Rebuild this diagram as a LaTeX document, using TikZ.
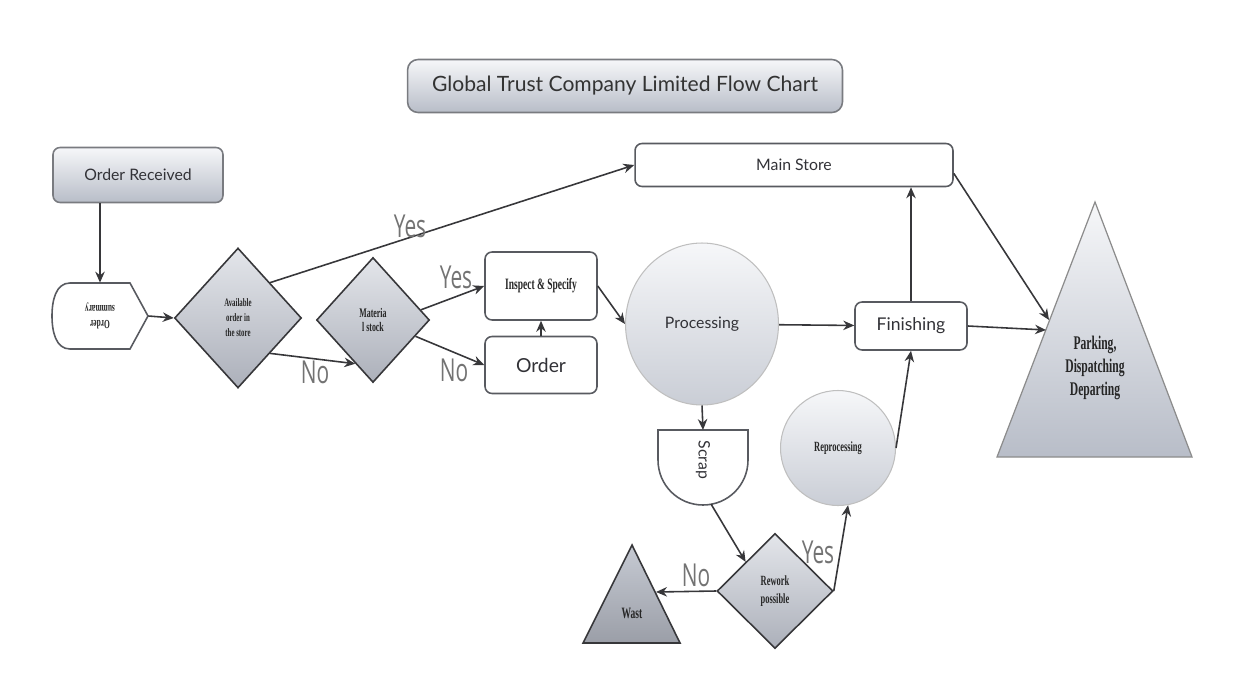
\documentclass[tikz,border=0pt]{standalone}
\usepackage{fontspec}
\setmainfont{Lato}
\newfontfamily\narrowfont[FakeStretch=0.6]{Liberation Serif}
\newfontfamily\thinfont[FakeStretch=0.66]{Open Sans}
\usetikzlibrary{arrows.meta,calc,shapes.geometric}
\definecolor{gtline}{RGB}{55,55,58}
\definecolor{gtedge}{RGB}{88,90,96}
\definecolor{gtlight}{RGB}{246,247,249}
\definecolor{gtgray}{RGB}{184,189,200}
\definecolor{gtdark}{RGB}{172,176,186}
\definecolor{gttext}{RGB}{50,50,55}

\begin{document}
\begin{tikzpicture}[
    x=0.02cm, y=-0.02cm,
    >={Stealth[length=2.2mm, width=1.9mm]},
    flow/.style={->, gtline, line width=0.9pt},
    tag/.style={font=\thinfont\fontsize{18}{18}\selectfont, text=black!55, inner sep=0pt},
    fine/.style 2 args={font=\narrowfont\bfseries\fontsize{#1}{#2}\selectfont, text=black!85},
    box/.style={draw=gtedge, line width=0.9pt, rounded corners=4pt, fill=white,
      text=gttext, font=\fontsize{9}{11}\selectfont},
    shadebox/.style={box, draw=gtedge!80, top color=gtlight, bottom color=gtgray},
    decide/.style={diamond, draw=gtline, line width=0.9pt, inner sep=0pt, align=center,
      top color=gtlight!70!gtgray, bottom color=gtdark},
    blob/.style={ellipse, draw=black!25, line width=0.6pt, inner sep=0pt,
      top color=gtlight, bottom color=gtgray!75, text=gttext},
  ]

  \useasboundingbox (0,0) rectangle (1256,675);

  % heading
  \node[shadebox, rounded corners=6pt, minimum width=8.7cm, minimum height=1.06cm,
    font=\fontsize{12}{14}\selectfont, text=black!80] (title) at (625,86)
    {Global Trust Company Limited Flow Chart};

  % left column: incoming order
  \node[shadebox, minimum width=3.4cm, minimum height=1.1cm] (ordrec) at (138,175) {Order Received};
  \node[minimum width=1.92cm, minimum height=1.32cm, inner sep=0pt] (summ) at (100,316) {};
  \draw[gtedge, line width=0.9pt, fill=white] (130,283) -- (70,283)
    .. controls (56,283) and (52,300) .. (52,316)
    .. controls (52,332) and (56,349) .. (70,349) -- (130,349) -- (148,316) -- cycle;
  \node[fine={7}{9}, rotate=180, align=center] (summtxt) at (summ) {Order\\summary};

  % decisions
  \node[decide, minimum width=2.54cm, minimum height=2.8cm, fine={6.5}{8.5}] (avail) at (238,318)
    {Available\\order in\\the store};
  \node[decide, minimum width=2.26cm, minimum height=2.5cm, fine={7.5}{8.5}] (matl) at (373,320)
    {Materia\\l stock};

  % stores and work stations
  \node[box, minimum width=2.24cm, minimum height=1.36cm, fine={9}{11}] (insp) at (541,286) {Inspect \& Specify};
  \node[box, minimum width=2.24cm, minimum height=1.14cm, font=\fontsize{11}{13}\selectfont] (order) at (541,365) {Order};
  \node[box, minimum width=6.36cm, minimum height=0.86cm] (store) at (794,165) {Main Store};
  \node[box, minimum width=2.24cm, minimum height=0.96cm, font=\fontsize{10}{12}\selectfont] (finish) at (911,326) {Finishing};
  \node[blob, minimum width=3.06cm, minimum height=3.24cm, font=\fontsize{9}{11}\selectfont] (proc) at (702,324) {Processing};
  \node[blob, minimum size=2.3cm, fine={8}{10}] (repro) at (838,448) {Reprocessing};

  % scrap (delay shape)
  \draw[gtedge, line width=0.9pt, fill=white] (658,430) -- (748,430) -- (748,460)
    .. controls (748,485) and (728,505) .. (703,505)
    .. controls (678,505) and (658,485) .. (658,460) -- cycle;
  \coordinate (scraptop) at (703,430);
  \coordinate (scrapbot) at (711,504);
  \node[rotate=-90, font=\fontsize{9}{11}\selectfont, text=gttext] (scrap) at (703,460) {Scrap};

  \node[decide, minimum width=2.32cm, minimum height=2.3cm, fine={8}{10}] (rework) at (775,591)
    {Rework\\possible};

  % waste
  \draw[gtline, line width=0.9pt, top color=gtgray!80, bottom color=gtdark!90!black]
    (632,545) -- (680,643) -- (583,643) -- cycle;
  \coordinate (wastin) at (656,592);
  \node[fine={9}{11}] (wast) at (632,613) {Wast};

  % dispatch
  \draw[black!45, line width=0.7pt, top color=gtlight, bottom color=gtgray]
    (1095,202) -- (1192,457) -- (997,457) -- cycle;
  \coordinate (parkin1) at (1049,320);
  \coordinate (parkin2) at (1046,330);
  \node[fine={11}{13}, align=center] (park) at (1095,368) {Parking,\\Dispatching\\Departing};

  % connectors
  \draw[flow] (summ.north |- ordrec.south) -- (summ.north);
  \draw[flow] (summ.east) -- (avail.west);
  \draw[flow] (avail.north east) -- (store.west);
  \draw[flow] (avail.south east) -- (matl.-112);
  \draw[flow] (matl.12) -- (insp.west);
  \draw[flow] (matl.-21) -- (order.west);
  \draw[flow] (order) -- (insp);
  \draw[flow] (insp.east) -- (proc.west);
  \draw[flow] (proc) -- (finish);
  \draw[flow] (finish.north) -- (finish.north |- store.south);
  \draw[flow] (store.-3) -- (parkin1);
  \draw[flow] (finish.east) -- (parkin2);
  \draw[flow] (proc.south) -- (scraptop);
  \draw[flow] (scrapbot) -- (rework.north west);
  \draw[flow] (rework.west) -- (wastin);
  \draw[flow] (rework.east) -- (repro.-80);
  \draw[flow] (repro.east) -- (finish.south);

  % yes / no tags
  \node[tag] (yesa) at (410,226) {Yes};
  \node[tag] (noa) at (315,372) {No};
  \node[tag] (yesb) at (456,277) {Yes};
  \node[tag] (nob) at (454,370) {No};
  \node[tag] (noc) at (696,575) {No};
  \node[tag] (yesc) at (818,552) {Yes};

\end{tikzpicture}
\end{document}
